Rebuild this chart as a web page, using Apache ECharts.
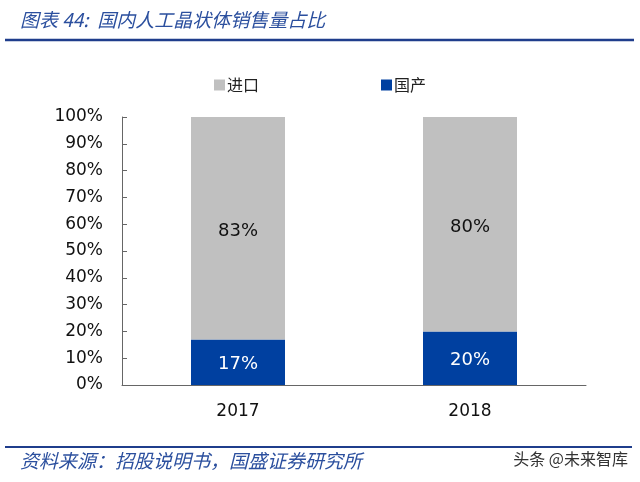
<!DOCTYPE html>
<html>
<head>
<meta charset="utf-8">
<script src="https://cdn.jsdelivr.net/npm/echarts@6/dist/echarts.min.js"></script>
<style>html,body{margin:0;padding:0;background:#fff;}#c{width:640px;height:482px;}</style>
</head>
<body>
<div id="c"></div>
<script>
const categories = ['2017', '2018'];
const domestic = [17, 20];
const imported = [83, 80];
const yTicks = [0, 10, 20, 30, 40, 50, 60, 70, 80, 90, 100];

const chart = echarts.init(document.getElementById('c'));
const blueLine = '#1f3d8c';
chart.setOption({
  animation: false,
  backgroundColor: '#fff',
  title: {
    text: '图表 44:  国内人工晶状体销售量占比',
    left: 15, top: 5,
    textStyle: { fontStyle: 'italic', fontWeight: 'normal', fontSize: 19, color: '#2b4f9e', fontFamily: 'Noto Sans CJK SC' }
  },
  legend: {
    data: ['进口', '国产'],
    left: 209, top: 72,
    itemWidth: 11, itemHeight: 11, itemGap: 122,
    icon: 'rect',
    textStyle: { fontSize: 16, color: '#222', fontFamily: 'Noto Sans CJK SC', padding: [0, 0, 0, -3] }
  },
  grid: { left: 122, right: 54, top: 117, bottom: 97 },
  xAxis: {
    type: 'category',
    data: categories,
    axisLine: { lineStyle: { color: '#666', width: 1 } },
    axisTick: { inside: true, length: 5, lineStyle: { color: '#666' } },
    axisLabel: { fontSize: 17, color: '#111', fontFamily: 'DejaVu Sans', margin: 18 }
  },
  yAxis: {
    type: 'value',
    min: yTicks[0], max: yTicks[yTicks.length - 1], interval: 10,
    axisLine: { show: true, lineStyle: { color: '#666', width: 1 } },
    axisTick: { show: true, inside: true, length: 5, lineStyle: { color: '#666' } },
    splitLine: { show: false },
    axisLabel: { formatter: '{value}%', fontSize: 17, color: '#111', fontFamily: 'DejaVu Sans', margin: 19 }
  },
  series: [
    {
      name: '国产', type: 'bar', stack: 's', data: domestic, barWidth: 94,
      itemStyle: { color: '#0040a0' },
      label: { show: true, position: 'inside', formatter: '{c}%', color: '#fff', fontSize: 18, fontFamily: 'DejaVu Sans', offset: [0, 2] }
    },
    {
      name: '进口', type: 'bar', stack: 's', data: imported, barWidth: 94,
      itemStyle: { color: '#c0c0c0' },
      label: { show: true, position: 'inside', formatter: '{c}%', color: '#111', fontSize: 18, fontFamily: 'DejaVu Sans', offset: [0, 3] }
    }
  ],
  graphic: [
    { type: 'line', shape: { x1: 5, y1: 40, x2: 634, y2: 40 }, style: { stroke: blueLine, lineWidth: 2.5 } },
    { type: 'line', shape: { x1: 5, y1: 447, x2: 632, y2: 447 }, style: { stroke: blueLine, lineWidth: 2 } },
    { type: 'text', left: 20, top: 451, style: { text: '资料来源：招股说明书，国盛证券研究所', fontSize: 19, fontStyle: 'italic', fill: '#2b4f9e', fontFamily: 'Noto Sans CJK SC' } },
    { type: 'text', right: 12, top: 451, style: { text: '头条 @未来智库', fontSize: 16, fill: '#333', fontFamily: 'Noto Sans CJK SC' } }
  ]
});
</script>
</body>
</html>
